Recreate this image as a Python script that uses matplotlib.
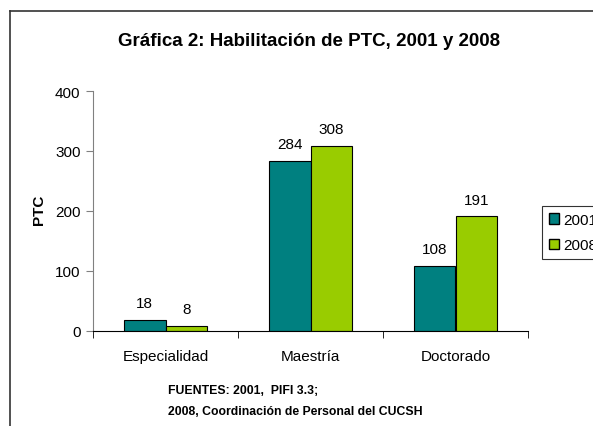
import matplotlib
matplotlib.use("Agg")
import matplotlib.pyplot as plt
import numpy as np
from matplotlib.lines import Line2D
from matplotlib.patches import Patch

plt.rcParams['font.family'] = ['Liberation Sans', 'DejaVu Sans']

categories = ['Especialidad', 'Maestría', 'Doctorado']
series_names = ['2001', '2008']
values_2001 = [18, 284, 108]
values_2008 = [8, 308, 191]
yticks = [0, 100, 200, 300, 400]
colors = ['#008080', '#99CC00']

W, H = 593, 427
fig = plt.figure(figsize=(W/100, H/100), dpi=100)

# frame (outer chart border, cut by the image edge)
fig.add_artist(Line2D([10/W, 10/W], [0, 1-12/H], color='#333333', lw=1.2, transform=fig.transFigure))
fig.add_artist(Line2D([10/W, 1], [1-12/H, 1-12/H], color='#333333', lw=1.2, transform=fig.transFigure))

ax = fig.add_axes([93/W, 1-332/H, 435/W, 240/H])
x = np.arange(len(categories))
bw = 0.285
b1 = ax.bar(x - bw/2, values_2001, bw, color=colors[0], edgecolor='black', linewidth=0.8)
b2 = ax.bar(x + bw/2, values_2008, bw, color=colors[1], edgecolor='black', linewidth=0.8)
for bars, vals in ((b1, values_2001), (b2, values_2008)):
    for r, v in zip(bars, vals):
        ax.annotate(str(v), (r.get_x() + r.get_width()/2, v), xytext=(0, 7),
                    textcoords='offset points', ha='center', va='bottom', fontsize=11)

ax.set_xlim(-0.5, 2.5)
ax.set_ylim(0, 400)
ax.set_yticks(yticks)
ax.set_yticklabels([str(t) for t in yticks], fontsize=11)
ax.set_xticks(x)
ax.set_xticklabels(categories, fontsize=11)
ax.tick_params(axis='x', length=0, pad=13)
ax.set_xticks([-0.5, 0.5, 1.5, 2.5], minor=True)
ax.tick_params(axis='x', which='minor', length=5, direction='out', color='black')
ax.tick_params(axis='y', length=5, direction='out', color='#808080', pad=4)
for s in ('top', 'right'):
    ax.spines[s].set_visible(False)
ax.spines['left'].set_color('#808080')
ax.spines['bottom'].set_color('black')
ax.set_ylabel('PTC', fontsize=11, fontweight='bold')
ax.yaxis.set_label_coords((39-93)/435, (332-210)/240)
ax.yaxis.label.set_va('center')

fig.text(309/W, 1-41/H, 'Gráfica 2: Habilitación de PTC, 2001 y 2008', ha='center', va='center',
         fontsize=13.5, fontweight='bold')

fig.text(168/W, 1-391/H, 'FUENTES: 2001,  PIFI 3.3;', ha='left', va='center', fontsize=8.8, fontweight='bold')
fig.text(168/W, 1-412/H, '2008, Coordinación de Personal del CUCSH', ha='left', va='center', fontsize=8.8, fontweight='bold')

handles = [Patch(facecolor=colors[0], edgecolor='black'), Patch(facecolor=colors[1], edgecolor='black')]
leg = fig.legend(handles, series_names, loc='upper left', bbox_to_anchor=(542/W, 1-207/H),
                 fontsize=11, frameon=True, fancybox=False, edgecolor='black',
                 handlelength=0.65, handleheight=0.65, handletextpad=0.3, borderpad=0.45,
                 labelspacing=0.75, borderaxespad=0)
leg.get_frame().set_linewidth(0.8)

fig.savefig('out.png', dpi=100)
